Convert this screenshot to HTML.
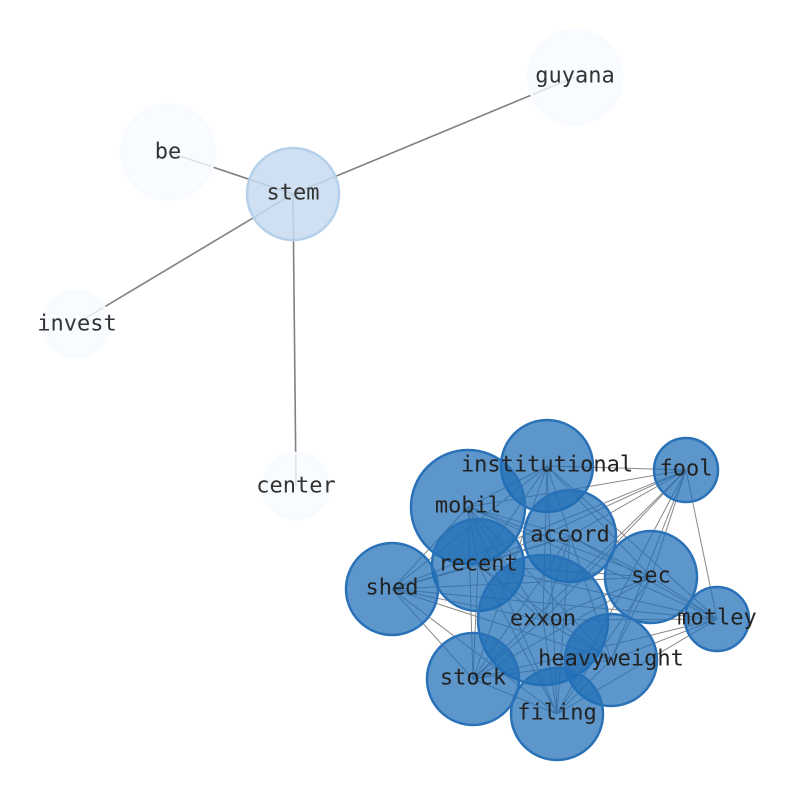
<!DOCTYPE html>
<html><head><style>body{margin:0;background:#fff}svg{display:block}</style></head><body>
<svg width="794" height="790" xmlns="http://www.w3.org/2000/svg" font-family="DejaVu Sans Mono, Liberation Mono, monospace" font-size="22">
<g stroke="#808080" stroke-width="1.6">
<line x1="293" y1="194" x2="168" y2="152"/><line x1="293" y1="194" x2="575" y2="77"/>
<line x1="293" y1="194" x2="76" y2="324"/><line x1="293" y1="194" x2="296" y2="486"/>
</g>
<path fill="none" stroke="#555" stroke-width="1" stroke-opacity="0.7" d="
M547 466L468 507M547 466L570 536M547 466L478 565M547 466L392 589M547 466L651 577M547 466L543 620M547 466L686 470M547 466L717 619M547 466L611 660M547 466L473 679M547 466L557 714
M468 507L570 536M468 507L478 565M468 507L392 589M468 507L651 577M468 507L543 620M468 507L686 470M468 507L717 619M468 507L611 660M468 507L473 679M468 507L557 714
M570 536L478 565M570 536L392 589M570 536L651 577M570 536L543 620M570 536L686 470M570 536L717 619M570 536L611 660M570 536L473 679M570 536L557 714
M478 565L392 589M478 565L651 577M478 565L543 620M478 565L686 470M478 565L717 619M478 565L611 660M478 565L473 679M478 565L557 714
M392 589L651 577M392 589L543 620M392 589L686 470M392 589L717 619M392 589L611 660M392 589L473 679M392 589L557 714
M651 577L543 620M651 577L686 470M651 577L717 619M651 577L611 660M651 577L473 679M651 577L557 714
M543 620L686 470M543 620L717 619M543 620L611 660M543 620L473 679M543 620L557 714
M686 470L717 619M686 470L611 660M686 470L473 679M686 470L557 714
M717 619L611 660M717 619L473 679M717 619L557 714
M611 660L473 679M611 660L557 714M473 679L557 714"/>
<g stroke-width="2.5">
<circle cx="168" cy="152" r="47" fill="#f7fbff" fill-opacity="0.8" stroke="#f7fbff"/>
<circle cx="575" cy="77" r="47" fill="#f7fbff" fill-opacity="0.8" stroke="#f7fbff"/>
<circle cx="76" cy="324" r="33" fill="#f7fbff" fill-opacity="0.8" stroke="#f7fbff"/>
<circle cx="296" cy="486" r="33" fill="#f7fbff" fill-opacity="0.8" stroke="#f7fbff"/>
<circle cx="293" cy="194" r="46" fill="#c6dbef" fill-opacity="0.85" stroke="#b5d0ea"/>
</g>
<g fill="#1f6db5" fill-opacity="0.72" stroke="#2a72b8" stroke-width="2.5">
<circle cx="547" cy="466" r="46"/><circle cx="468" cy="507" r="57"/><circle cx="570" cy="536" r="46"/>
<circle cx="478" cy="565" r="46"/><circle cx="392" cy="589" r="46"/><circle cx="651" cy="577" r="46"/>
<circle cx="543" cy="620" r="65"/><circle cx="686" cy="470" r="32"/><circle cx="717" cy="619" r="32"/>
<circle cx="611" cy="660" r="46"/><circle cx="473" cy="679" r="46"/><circle cx="557" cy="714" r="46"/>
</g>
<g fill="#333" text-anchor="middle" dominant-baseline="central">
<text x="168" y="152">be</text><text x="575" y="76">guyana</text><text x="77" y="324">invest</text>
<text x="296" y="486">center</text><text x="293" y="193">stem</text>
</g>
<g fill="#222" text-anchor="middle" dominant-baseline="central">
<text x="547" y="465">institutional</text><text x="468" y="506">mobil</text><text x="570" y="535">accord</text>
<text x="478" y="564">recent</text><text x="392" y="588">shed</text><text x="651" y="576">sec</text>
<text x="543" y="619">exxon</text><text x="686" y="469">fool</text><text x="717" y="618">motley</text>
<text x="611" y="659">heavyweight</text><text x="473" y="678">stock</text><text x="557" y="713">filing</text>
</g>
</svg>
</body></html>
